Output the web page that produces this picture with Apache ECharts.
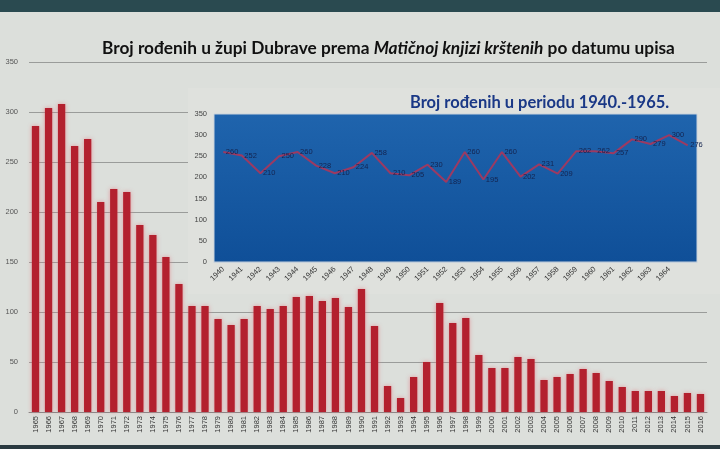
<!DOCTYPE html>
<html><head><meta charset="utf-8">
<script src="https://cdn.jsdelivr.net/npm/echarts@6/dist/echarts.min.js"></script>
<style>html,body{margin:0;padding:0;background:#dcdfdb}#c{width:720px;height:449px}</style>
</head><body><div id="c"></div>
<script>
// Main chart: births per year 1965-2016
const years = [];
for (let y = 1965; y <= 2016; y++) years.push(String(y));
const births = [286,304,308,266,273,210,223,220,187,177,155,128,106,106,93,87,93,106,103,106,
  115,116,111,114,105,123,86,26,14,35,50,109,89,94,57,44,44,55,53,32,
  35,38,43,39,31,25,21,21,21,16,19,18];
const mainTicks = [0,50,100,150,200,250,300,350];

// Inset: births 1940-1965
const insetYears = [];
for (let y = 1940; y <= 1965; y++) insetYears.push(String(y));
const insetBirths = [260,252,210,250,260,228,210,224,258,210,205,230,189,260,195,260,202,231,209,262,262,257,290,279,300,276];
const insetTicks = [0,50,100,150,200,250,300,350];

const chart = echarts.init(document.getElementById('c'), null, {renderer:'canvas'});
chart.setOption({
  backgroundColor: '#dcdfdb',
  animation: false,
  title: [{
    text: '{b|Broj rođenih u župi Dubrave prema }{i|Matičnoj knjizi krštenih}{b| po datumu upisa}',
    left: 97, top: 35,
    textStyle: { rich: {
      b: {fontFamily:'Lato', fontWeight:'bold', fontSize:17.3, color:'#111'},
      i: {fontFamily:'Lato', fontWeight:'bold', fontStyle:'italic', fontSize:17.3, color:'#111'}
    }}
  },{
    text: 'Broj rođenih u periodu 1940.-1965.',
    left: 405, top: 89,
    textStyle: {fontFamily:'Lato', fontWeight:'bold', fontSize:16.5, color:'#1a3886'}
  }],
  graphic: [
    {type:'rect', shape:{x:0,y:0,width:720,height:12}, style:{fill:'#2a4a50'}, z:10},
    {type:'rect', shape:{x:0,y:445,width:720,height:4}, style:{fill:'#2a3a40'}, z:10},
    {type:'rect', shape:{x:188,y:88,width:532,height:206}, style:{fill:'#dfe1dd'}, z:1}
  ],
  grid: [
    {left:29, right:13, top:62, bottom:37},
    {left:214, right:23, top:114, bottom:187, show:true, z:3,
     backgroundColor:{type:'linear',x:0,y:0,x2:0,y2:1,colorStops:[{offset:0,color:'#1f64ad'},{offset:1,color:'#0f4f98'}]},
     borderColor:'#c8d2dc', borderWidth:1}
  ],
  xAxis: [
    {type:'category', gridIndex:0, data: years, boundaryGap:true,
     axisLine:{lineStyle:{color:'#888'}}, axisTick:{show:false},
     axisLabel:{rotate:90, interval:0, fontSize:7.5, color:'#333', margin:4, fontFamily:'Liberation Sans'}},
    {type:'category', gridIndex:1, data: insetYears, boundaryGap:true, z:3,
     axisLine:{lineStyle:{color:'#c8d2dc'}}, axisTick:{show:false},
     axisLabel:{rotate:45, fontSize:7.5, color:'#333', margin:6, fontFamily:'Liberation Sans',
       interval: function(i){ return i < 25; }}}
  ],
  yAxis: [
    {type:'value', gridIndex:0, min:0, max:350, interval:50,
     axisLine:{show:false}, axisTick:{show:false},
     splitLine:{lineStyle:{color:'#9a9c9a', width:1}},
     axisLabel:{fontSize:7.5, color:'#555', margin:11, fontFamily:'Liberation Sans'}},
    {type:'value', gridIndex:1, min:0, max:350, interval:50, z:3,
     axisLine:{show:false}, axisTick:{show:false},
     splitLine:{show:false},
     axisLabel:{fontSize:7.5, color:'#444', margin:7, fontFamily:'Liberation Sans'}}
  ],
  series: [
    {type:'bar', xAxisIndex:0, yAxisIndex:0, data: births, barWidth:'56%', z:2,
     itemStyle:{color:'#b3202e', shadowColor:'rgba(230,120,130,0.7)', shadowBlur:4}},
    {type:'line', xAxisIndex:1, yAxisIndex:1, data: insetBirths, z:5,
     symbol:'circle', symbolSize:1, showSymbol:true, itemStyle:{color:'rgba(0,0,0,0)'},
     lineStyle:{color:'#9c3a62', width:2},
     labelLayout:{hideOverlap:false},
     label:{show:true, position:'right', distance:2, fontSize:7.5, color:'#142450', fontFamily:'Liberation Sans'}}
  ]
});
</script></body></html>
